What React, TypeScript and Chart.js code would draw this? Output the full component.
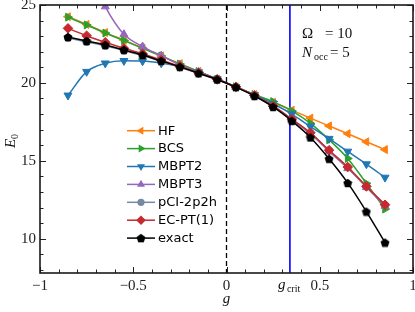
import React, { useEffect, useRef } from 'react';
import { Chart, registerables } from 'chart.js';

Chart.register(...registerables);

const gValues = [-0.85, -0.75, -0.65, -0.55, -0.45, -0.35, -0.25, -0.15, -0.05, 0.05, 0.15, 0.25, 0.35, 0.45, 0.55, 0.65, 0.75, 0.85];
const hfValues = [24.25, 23.75, 23.23, 22.74, 22.24, 21.74, 21.23, 20.74, 20.25, 19.75, 19.25, 18.75, 18.25, 17.74, 17.24, 16.74, 16.22, 15.72];
const bcsValues = [24.22, 23.72, 23.2, 22.72, 22.22, 21.73, 21.21, 20.73, 20.24, 19.75, 19.25, 18.8, 18.2, 17.4, 16.35, 15.15, 13.55, 11.9];
const mbpt2Values = [19.2, 20.72, 21.26, 21.42, 21.4, 21.27, 21.05, 20.7, 20.25, 19.75, 19.23, 18.66, 18.0, 17.2, 16.42, 15.6, 14.79, 13.93];
const mbpt3Values = [31.5, 27.6, 24.9, 23.12, 22.33, 21.75, 21.15, 20.7, 20.24, 19.74, 19.2, 18.52, 17.64, 16.74, 15.6, 14.52, 13.3, 12.1];
const pciValues = [22.89, 22.63, 22.38, 22.07, 21.75, 21.38, 21.01, 20.61, 20.21, 19.73, 19.18, 18.5, 17.66, 16.78, 15.66, 14.58, 13.34, 12.16];
const ecptValues = [23.5, 23.03, 22.61, 22.22, 21.87, 21.47, 21.06, 20.64, 20.22, 19.74, 19.2, 18.52, 17.68, 16.8, 15.68, 14.6, 13.36, 12.18];
const exactValues = [22.95, 22.69, 22.43, 22.12, 21.79, 21.41, 21.03, 20.62, 20.22, 19.73, 19.16, 18.46, 17.56, 16.5, 15.13, 13.58, 11.74, 9.75];

const seriesLabels = ['HF', 'BCS', 'MBPT2', 'MBPT3', 'pCI-2p2h', 'EC-PT(1)', 'exact'];
const xTickValues = [-1, -0.5, 0, 0.5, 1];
const yTickValues = [10, 15, 20, 25];
const xRange = [-1, 1];
const yRange = [7.8, 25];
const gCrit = 0.34;
const omegaValue = 10;
const nOccValue = 5;

const SERIF = '"Liberation Serif", "DejaVu Serif", serif';
const SANS = '"DejaVu Sans", sans-serif';

type MarkerKind = 'triangle' | 'rectRot' | 'circle' | 'pentagon';

function makePentagon(size: number, color: string): HTMLCanvasElement {
  const c = document.createElement('canvas');
  c.width = size;
  c.height = size;
  const ctx = c.getContext('2d')!;
  const r = size / 2 - 0.3;
  const cx = size / 2;
  const cy = size / 2 + r * 0.1;
  ctx.beginPath();
  for (let k = 0; k < 5; k++) {
    const a = -Math.PI / 2 + (k * 2 * Math.PI) / 5;
    ctx.lineTo(cx + r * Math.cos(a), cy + r * Math.sin(a));
  }
  ctx.closePath();
  ctx.fillStyle = color;
  ctx.fill();
  return c;
}

function fmt(v: number): string {
  const s = String(Math.abs(v));
  return v < 0 ? '\u2212' + s : s;
}

export default function App() {
  const ref = useRef<HTMLCanvasElement | null>(null);

  useEffect(() => {
    document.body.style.margin = '0';
    const canvas = ref.current;
    if (!canvas) return;
    const pentagon = makePentagon(10, '#000000');

    const styles: { color: string; kind: MarkerKind; rot: number; r: number }[] = [
      { color: '#ff7f0e', kind: 'triangle', rot: 270, r: 4.6 },
      { color: '#2ca02c', kind: 'triangle', rot: 90, r: 4.6 },
      { color: '#1f77b4', kind: 'triangle', rot: 180, r: 4.6 },
      { color: '#9467bd', kind: 'triangle', rot: 0, r: 4.6 },
      { color: '#7788a4', kind: 'circle', rot: 0, r: 3.6 },
      { color: '#c62a2f', kind: 'rectRot', rot: 0, r: 4.8 },
      { color: '#000000', kind: 'pentagon', rot: 0, r: 5 },
    ];
    const allValues = [hfValues, bcsValues, mbpt2Values, mbpt3Values, pciValues, ecptValues, exactValues];

    const datasets = allValues.map((vals, i) => {
      const st = styles[i];
      return {
        label: seriesLabels[i],
        data: gValues.map((g, j) => ({ x: g, y: vals[j] })),
        borderColor: st.color,
        backgroundColor: st.color,
        borderWidth: 1.5,
        pointStyle: st.kind === 'pentagon' ? pentagon : st.kind,
        pointRotation: st.rot,
        pointRadius: st.r,
        pointBorderWidth: st.kind === 'pentagon' ? 0 : 1,
        pointBorderColor: st.color,
        pointBackgroundColor: st.color,
        tension: 0.4,
        cubicInterpolationMode: 'monotone' as const,
        order: 6 - i,
        clip: 0,
      };
    });

    const drawMarker = (ctx: CanvasRenderingContext2D, i: number, x: number, y: number) => {
      const st = styles[i];
      ctx.save();
      ctx.fillStyle = st.color;
      if (st.kind === 'pentagon') {
        ctx.drawImage(pentagon, x - pentagon.width / 2, y - pentagon.height / 2);
        ctx.restore();
        return;
      }
      ctx.beginPath();
      if (st.kind === 'circle') {
        ctx.arc(x, y, st.r, 0, Math.PI * 2);
      } else if (st.kind === 'rectRot') {
        ctx.moveTo(x, y - st.r);
        ctx.lineTo(x + st.r, y);
        ctx.lineTo(x, y + st.r);
        ctx.lineTo(x - st.r, y);
      } else {
        let rad = (st.rot * Math.PI) / 180;
        for (let k = 0; k < 3; k++) {
          const px = x + Math.sin(rad) * st.r;
          const py = y - Math.cos(rad) * st.r;
          if (k === 0) ctx.moveTo(px, py);
          else ctx.lineTo(px, py);
          rad += (2 * Math.PI) / 3;
        }
      }
      ctx.closePath();
      ctx.fill();
      ctx.restore();
    };

    const decor = {
      id: 'decor',
      beforeDatasetsDraw(chart: any) {
        const { ctx, chartArea } = chart;
        const xs = chart.scales.x;
        ctx.save();
        ctx.beginPath();
        ctx.rect(chartArea.left, chartArea.top, chartArea.right - chartArea.left, chartArea.bottom - chartArea.top);
        ctx.clip();
        const x0 = xs.getPixelForValue(0);
        ctx.strokeStyle = '#000';
        ctx.lineWidth = 1.3;
        ctx.setLineDash([5, 3]);
        ctx.beginPath();
        ctx.moveTo(x0, chartArea.top);
        ctx.lineTo(x0, chartArea.bottom);
        ctx.stroke();
        ctx.setLineDash([]);
        const xc = xs.getPixelForValue(gCrit);
        ctx.strokeStyle = '#0000ff';
        ctx.lineWidth = 1.6;
        ctx.beginPath();
        ctx.moveTo(xc, chartArea.top);
        ctx.lineTo(xc, chartArea.bottom);
        ctx.stroke();
        ctx.restore();
      },
      afterDatasetsDraw(chart: any) {
        const { ctx, chartArea } = chart;
        const xs = chart.scales.x;
        const ys = chart.scales.y;
        const { left, right, top, bottom } = chartArea;
        ctx.save();
        // ticks
        ctx.strokeStyle = '#222';
        ctx.lineWidth = 1;
        const majorLen = 6;
        const minorLen = 3.5;
        for (let k = -10; k <= 10; k++) {
          const v = k / 10;
          const major = k % 5 === 0;
          const len = major ? majorLen : minorLen;
          const px = Math.round(xs.getPixelForValue(v)) + 0.5;
          ctx.beginPath();
          ctx.moveTo(px, bottom);
          ctx.lineTo(px, bottom - len);
          ctx.moveTo(px, top);
          ctx.lineTo(px, top + len);
          ctx.stroke();
        }
        for (let v = 8; v <= 25; v++) {
          const major = v % 5 === 0;
          const len = major ? majorLen : minorLen;
          const py = Math.round(ys.getPixelForValue(v)) + 0.5;
          ctx.beginPath();
          ctx.moveTo(left, py);
          ctx.lineTo(left + len, py);
          ctx.moveTo(right, py);
          ctx.lineTo(right - len, py);
          ctx.stroke();
        }
        // frame
        ctx.lineWidth = 1.6;
        ctx.strokeStyle = '#1a1a1a';
        ctx.strokeRect(left, top, right - left, bottom - top);

        // legend
        const lx0 = left + 87;
        const ly0 = top + 125.7;
        const dy = 17.9;
        ctx.font = `13px ${SANS}`;
        ctx.textBaseline = 'middle';
        ctx.textAlign = 'left';
        seriesLabels.forEach((lab, i) => {
          const y = ly0 + i * dy;
          ctx.strokeStyle = styles[i].color;
          ctx.lineWidth = 1.5;
          ctx.beginPath();
          ctx.moveTo(lx0, y);
          ctx.lineTo(lx0 + 28, y);
          ctx.stroke();
          drawMarker(ctx, i, lx0 + 14, y);
          ctx.fillStyle = '#000';
          ctx.fillText(lab, lx0 + 31, y + 0.5);
        });

        // annotation
        ctx.fillStyle = '#111';
        ctx.textBaseline = 'alphabetic';
        ctx.font = `15px ${SERIF}`;
        const ax = left + 262;
        ctx.fillText('\u03A9', ax, top + 33);
        ctx.fillText(`= ${omegaValue}`, ax + 23, top + 33);
        ctx.font = `italic 15px ${SERIF}`;
        ctx.fillText('N', ax, top + 52);
        ctx.font = `10px ${SERIF}`;
        ctx.fillText('occ', ax + 12, top + 55);
        ctx.font = `15px ${SERIF}`;
        ctx.fillText(`= ${nOccValue}`, ax + 28, top + 52);

        // g_crit tick label
        const xc = xs.getPixelForValue(gCrit);
        ctx.font = `italic 15px ${SERIF}`;
        ctx.fillText('g', xc - 12, bottom + 16);
        ctx.font = `10px ${SERIF}`;
        ctx.fillText('crit', xc - 3, bottom + 19);

        // axis titles
        ctx.font = `italic 15px ${SERIF}`;
        ctx.textAlign = 'center';
        ctx.fillText('g', (left + right) / 2, bottom + 30);
        ctx.save();
        ctx.translate(15, 141);
        ctx.rotate(-Math.PI / 2);
        ctx.textAlign = 'left';
        ctx.font = `italic 15px ${SERIF}`;
        ctx.fillText('E', -7, 0);
        ctx.font = `10px ${SERIF}`;
        ctx.fillText('0', 2, 3);
        ctx.restore();
        ctx.restore();
      },
    };

    const chart = new Chart(canvas, {
      type: 'line',
      data: { datasets: datasets as any },
      options: {
        animation: false,
        responsive: true,
        maintainAspectRatio: false,
        layout: { autoPadding: false, padding: { top: 5, right: 2, left: 0, bottom: 0 } },
        plugins: { legend: { display: false }, tooltip: { enabled: false } },
        scales: {
          x: {
            type: 'linear',
            min: xRange[0],
            max: xRange[1],
            afterBuildTicks: (s: any) => {
              s.ticks = xTickValues.map((v) => ({ value: v }));
            },
            afterFit: (s: any) => {
              s.height = 39;
              s.paddingLeft = 0;
              s.paddingRight = 0;
            },
            ticks: {
              autoSkip: false,
              maxRotation: 0,
              padding: 4,
              color: '#222',
              font: { family: SERIF, size: 15 },
              callback: (v: any) => fmt(Number(v)),
            },
            grid: { display: false, drawTicks: false },
            border: { display: false },
          },
          y: {
            type: 'linear',
            min: yRange[0],
            max: yRange[1],
            afterBuildTicks: (s: any) => {
              s.ticks = yTickValues.map((v) => ({ value: v }));
            },
            afterFit: (s: any) => {
              s.width = 40;
              s.paddingTop = 0;
              s.paddingBottom = 0;
            },
            ticks: {
              autoSkip: false,
              padding: 4,
              color: '#222',
              font: { family: SERIF, size: 15 },
              callback: (v: any) => fmt(Number(v)),
            },
            grid: { display: false, drawTicks: false },
            border: { display: false },
          },
        },
      },
      plugins: [decor],
    });
    return () => chart.destroy();
  }, []);

  return (
    <div style={{ width: 415, height: 312, position: 'relative' }}>
      <canvas ref={ref} />
    </div>
  );
}
